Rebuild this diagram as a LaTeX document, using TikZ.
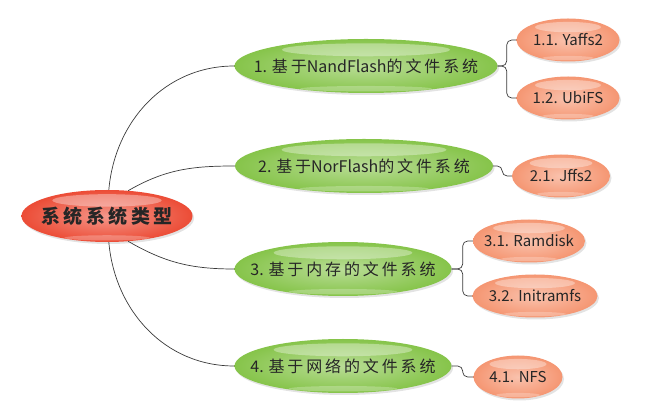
\documentclass[tikz,border=0pt]{standalone}
\usepackage{fontspec}
\setmainfont{Noto Sans CJK SC}
\newfontfamily\cjk[LetterSpace=18]{Noto Sans CJK SC}
\newcommand{\cn}[1]{{\cjk #1}}
\usetikzlibrary{shapes.geometric,shadows,calc}
\definecolor{rootred}{RGB}{236,76,54}
\definecolor{topicgreen}{RGB}{134,196,74}
\definecolor{leaforange}{RGB}{245,150,114}

\begin{document}
\begin{tikzpicture}[x=1pt,y=1pt,
    bubble/.style={ellipse,inner sep=0pt,text=black!85,
      inner color=#1!58!white,outer color=#1,
      drop shadow={opacity=.22,shadow xshift=1.5pt,shadow yshift=-2pt},
      execute at begin node={\hbox to 0pt\bgroup\hss},
      execute at end node={\hss\egroup},
      path picture={\fill[white,opacity=.35] let \p1=(path picture bounding box.north west),
        \p2=(path picture bounding box.south east) in
        (\x1*.5+\x2*.5,\y1*.8+\y2*.2) ellipse [x radius={(\x2-\x1)*.32},y radius={(\y1-\y2)*.12}];
        \fill[white,opacity=.25] let \p1=(path picture bounding box.north west),
        \p2=(path picture bounding box.south east) in
        (\x1*.5+\x2*.5,\y1*.08+\y2*.92) ellipse [x radius={(\x2-\x1)*.25},y radius={(\y1-\y2)*.05}];}},
    rootnode/.style={bubble=rootred,minimum width=171pt,minimum height=52pt,
      font=\bfseries\fontsize{19}{22}\selectfont},
    topic/.style={bubble=topicgreen,minimum height=54pt,font=\fontsize{16}{19}\selectfont},
    leaf/.style={bubble=leaforange,minimum height=43pt,font=\fontsize{15}{18}\selectfont},
    link/.style={draw=gray!45!black,line width=.7pt},
    bracket/.style={link,rounded corners=5pt}]
    \useasboundingbox (0,0) rectangle (669,420);
    % centre
    \node[rootnode] (root) at (107,204) {\cn{系统系统类型}};
    % main branches
    \node[topic,minimum width=263pt] (g1) at (366,354) {1. \cn{基于}NandFlash\cn{的文件系统}};
    \node[topic,minimum width=258pt] (g2) at (364,254) {2. \cn{基于}NorFlash\cn{的文件系统}};
    \node[topic,minimum width=217pt] (g3) at (343,151) {3. \cn{基于内存的文件系统}};
    \node[topic,minimum width=217pt] (g4) at (343,54) {4. \cn{基于网络的文件系统}};
    % leaves
    \node[leaf,minimum width=103pt] (o11) at (568,380) {1.1. Yaffs2};
    \node[leaf,minimum width=103pt] (o12) at (568,322) {1.2. UbiFS};
    \node[leaf,minimum width=98pt] (o21) at (561,244) {2.1. Jffs2};
    \node[leaf,minimum width=112pt] (o31) at (529,179) {3.1. Ramdisk};
    \node[leaf,minimum width=125pt] (o32) at (535,124) {3.2. Initramfs};
    \node[leaf,minimum width=89pt] (o41) at (518,43) {4.1. NFS};
    % curves from the centre
    \draw[link] (root.86) to[out=85,in=180] (g1.west);
    \draw[link] (root.50) to[out=30,in=180] (g2.west);
    \draw[link] (root.-50) to[out=-30,in=180] (g3.west);
    \draw[link] (root.-86) to[out=-85,in=180] (g4.west);
    % brackets to the leaves
    \draw[bracket] (g1.east) -- ++(9,0) |- (o11.west);
    \draw[bracket] (g1.east) -- ++(9,0) |- (o12.west);
    \draw[bracket] (g2.east) -- ++(9,0) |- (o21.west);
    \draw[bracket] (g3.east) -- ++(11,0) |- (o31.west);
    \draw[bracket] (g3.east) -- ++(11,0) |- (o32.west);
    \draw[bracket] (g4.east) -- ++(11,0) |- (o41.west);
\end{tikzpicture}
\end{document}
